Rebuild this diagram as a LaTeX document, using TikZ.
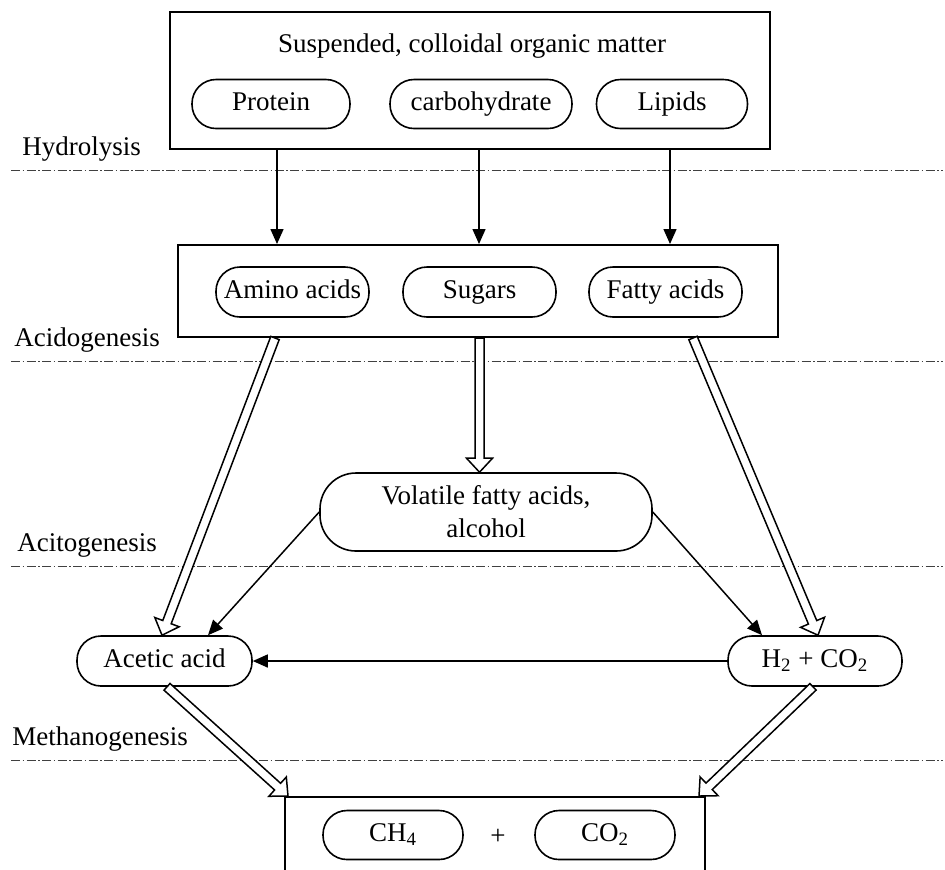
\documentclass[tikz,border=0pt]{standalone}
\usepackage{fontspec}
\setmainfont{Liberation Serif}
\usetikzlibrary{arrows.meta,calc}
\tikzset{
  stagebox/.style={rectangle, draw=black, line width=1pt, fill=white, inner sep=0pt},
  pill/.style={rectangle, rounded corners=12pt, draw=black, line width=0.8pt, fill=white, minimum height=24.5pt, inner sep=0pt, text height=9.5pt, text depth=3.5pt, align=center},
  parr/.style={-{Triangle[length=7.5pt, width=6.5pt]}, line width=0.75pt, black},
  harr/.style={draw=black, line width=0.75pt, fill=white, line join=miter},
  phase/.style={draw=black!75, line width=0.4pt, dash pattern=on 4.5pt off 1.25pt on 0.75pt off 1.25pt}
}
\newcommand{\hollowarr}[2]{%
  \coordinate (ha-h) at ($(#2)!7pt!(#1)$);
  \draw[harr] ($(#1)!2.25pt!90:(#2)$) -- ($(ha-h)!2.25pt!-90:(#1)$) -- ($(ha-h)!6.5pt!-90:(#1)$) -- (#2)
    -- ($(ha-h)!6.5pt!90:(#1)$) -- ($(ha-h)!2.25pt!90:(#1)$) -- ($(#1)!2.25pt!-90:(#2)$) -- cycle;}

\begin{document}
\begin{tikzpicture}[
    x=0.5pt, y=-0.5pt,
    font=\fontsize{13.5pt}{16.5pt}\selectfont,
    plbl/.style={anchor=base west, inner sep=0pt}
  ]
    \useasboundingbox (0,0) rectangle (945,869);
    \clip (0,0) rectangle (945,869);

    % phase separators
    \foreach \yy/\xx/\txt in {170/22/Hydrolysis, 361/14/Acidogenesis, 566/17/Acitogenesis, 760/12/Methanogenesis}{
      \draw[phase] (11,\yy) -- (943,\yy);
      \node[plbl] at (\xx,\yy-15) {\txt};
    }

    \node[stagebox, minimum width=300pt, minimum height=68.5pt] (organic) at (470,80.5) {};
    \node[anchor=base, inner sep=0pt] (title) at (472,52) {Suspended, colloidal organic matter};
    \node[pill, minimum width=79pt] (protein) at (271,104) {Protein};
    \node[pill, minimum width=91pt] (carb) at (481,104) {carbohydrate};
    \node[pill, minimum width=75.5pt] (lipids) at (672,104) {Lipids};

    \node[stagebox, minimum width=300pt, minimum height=46pt] (acids) at (478,291) {};
    \node[pill, minimum width=76.5pt, minimum height=25pt] (amino) at (292.5,292) {Amino acids};
    \node[pill, minimum width=76.5pt, minimum height=25pt] (sugars) at (479.5,292) {Sugars};
    \node[pill, minimum width=76.5pt, minimum height=25pt] (fatty) at (665.5,292) {Fatty acids};

    \node[pill, rounded corners=18pt, minimum width=166pt, minimum height=39pt, text height={}, text depth={}] (vfa) at (486,512) {Volatile fatty acids,\\ alcohol};
    \node[pill, minimum width=87.5pt, minimum height=25pt] (acetic) at (164.5,661) {Acetic acid};
    \node[pill, minimum width=87pt, minimum height=25pt] (hco) at (815,661) {H\textsubscript{2} + CO\textsubscript{2}};

    \node[stagebox, minimum width=210pt, minimum height=51.5pt] (gas) at (495,848.5) {};
    \node[pill, minimum width=70pt] (ch4) at (393,835) {CH\textsubscript{4}};
    \node[inner sep=0pt] (plus) at (498,837) {+};
    \node[pill, minimum width=70pt] (co2) at (605,835) {CO\textsubscript{2}};

    \draw[parr] ($(protein |- organic.south)+(6,0)$) -- ($(protein |- acids.north)+(6,0)$);
    \draw[parr] ($(carb |- organic.south)+(-2,0)$) -- ($(carb |- acids.north)+(-2,0)$);
    \draw[parr] ($(lipids |- organic.south)+(-2,0)$) -- ($(lipids |- acids.north)+(-2,0)$);

    \draw[parr] (vfa.west) -- ($(acetic.north)+(43.5,0)$);
    \draw[parr] (vfa.east) -- ($(hco.north)+(-53,0)$);
    \draw[parr] (hco.west) -- (acetic.east);

    \coordinate (h1a) at ($(amino |- acids.south)+(-17.5,0)$);
    \coordinate (h1b) at ($(acetic.north)+(-2.5,0)$);
    \coordinate (h2a) at (sugars |- acids.south);
    \coordinate (h2b) at (sugars |- vfa.north);
    \coordinate (h3a) at ($(fatty |- acids.south)+(27.5,0)$);
    \coordinate (h3b) at ($(hco.north)+(3,0)$);
    \coordinate (h4a) at ($(acetic.south)+(2.5,0)$);
    \coordinate (h4b) at ($(gas.north west)+(4,0)$);
    \coordinate (h5a) at ($(hco.south)+(-2,0)$);
    \coordinate (h5b) at ($(gas.north east)+(-7,0)$);
    \hollowarr{h1a}{h1b}
    \hollowarr{h2a}{h2b}
    \hollowarr{h3a}{h3b}
    \hollowarr{h4a}{h4b}
    \hollowarr{h5a}{h5b}
  \end{tikzpicture}
\end{document}
